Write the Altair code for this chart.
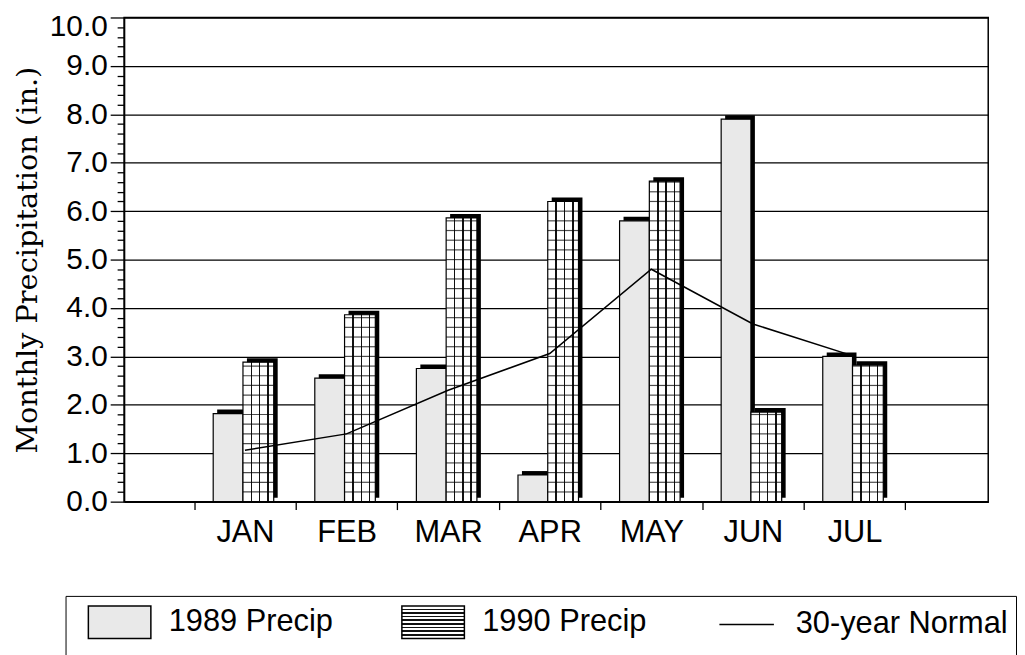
import altair as alt
import pandas as pd

# ---- data ----
months = ["JAN", "FEB", "MAR", "APR", "MAY", "JUN", "JUL"]
precip_1989 = [1.82, 2.55, 2.75, 0.55, 5.80, 7.90, 3.00]
precip_1990 = [2.88, 3.86, 5.86, 6.20, 6.62, 1.85, 2.82]
normal_30yr = [1.06, 1.40, 2.30, 3.06, 4.80, 3.67, 3.00]
series = ["1989 Precip", "1990 Precip", "30-year Normal"]
y_tick_values = [i / 5 for i in range(51)]

df = pd.DataFrame({"month": months, "p1989": precip_1989,
                   "p1990": precip_1990, "normal": normal_30yr})
leg_df = pd.DataFrame({"series": series})

FONT = "Liberation Sans, Arial, Helvetica, sans-serif"
TITLE = "Monthly Precipitation (in.)"
is_int = "abs(datum.value - round(datum.value)) < 0.001"

x_scale = alt.Scale(domain=months, paddingInner=0, paddingOuter=0.753, align=0.458)
x_axis = alt.Axis(title=None, labelAngle=0, tickBand="extent", tickSize=8,
                  labelFontSize=31, labelPadding=8, labelFont=FONT)
y_scale = alt.Scale(domain=[0, 10], nice=False, zero=True)
y_axis = alt.Axis(values=y_tick_values,
                  labelExpr=f"{is_int} ? format(datum.value, '.1f') : ''",
                  tickSize={"condition": {"test": is_int, "value": 14}, "value": 7},
                  gridOpacity={"condition": {"test": is_int, "value": 1}, "value": 0},
                  labelOffset={"condition": {"test": "datum.value > 9.99", "value": 9},
                               "value": 0},
                  labelFontSize=30, labelFont=FONT, labelPadding=3,
                  titleFont="DejaVu Serif", titleFontSize=29, titleFontWeight="normal",
                  titlePadding=7)


def X():
    return alt.X("month:N", sort=months, scale=x_scale, axis=x_axis)


def Y(field):
    return alt.Y(field, scale=y_scale, axis=y_axis, title=TITLE)


base = alt.Chart(df)

shadow89 = base.mark_bar(color="black", width=30, xOffset=-13, yOffset=-4).encode(
    x=X(), y=Y("p1989:Q"))
front89 = base.mark_bar(fill="#e9e9e9", stroke="black", strokeWidth=1.2,
                        width=30, xOffset=-17).encode(x=X(), y=Y("p1989:Q"))

shadow90 = base.mark_bar(color="black", width=31, xOffset=17.5, yOffset=-4).encode(
    x=X(), y=Y("p1990:Q"))

stripe_stops = []
for a, b in [(0.25, 0.30), (0.52, 0.57), (0.79, 0.84)]:
    stripe_stops += [("white", a), ("#111", a), ("#111", b), ("white", b)]
grad_x = alt.Gradient(
    gradient="linear", x1=0, x2=1, y1=0, y2=0,
    stops=[alt.GradientStop(color="white", offset=0)]
    + [alt.GradientStop(color=c, offset=o) for c, o in stripe_stops]
    + [alt.GradientStop(color="white", offset=1)])
front90 = base.mark_bar(fill=grad_x, stroke="black", strokeWidth=1.2,
                        width=31, xOffset=13.5).encode(x=X(), y=Y("p1990:Q"))

hatch90 = base.transform_calculate(
    level="sequence(0.2, datum.p1990, 0.2)"
).transform_flatten(["level"]).mark_tick(
    color="black", thickness=1.2, size=31, xOffset=13.5
).encode(x=X(), y=Y("level:Q"))

normal_line = base.mark_line(color="black", strokeWidth=1.5).encode(
    x=X(), y=Y("normal:Q"))

# legend swatch fill for the hatched series (horizontal stripes)
leg_stops = []
n = 9
for k in range(1, n):
    a = k / n
    leg_stops += [f"{{offset: {a - 0.03:.3f}, color: 'white'}}",
                  f"{{offset: {a - 0.03:.3f}, color: '#111'}}",
                  f"{{offset: {a + 0.02:.3f}, color: '#111'}}",
                  f"{{offset: {a + 0.02:.3f}, color: 'white'}}"]
grad_expr = ("{gradient: 'linear', x1: 0, y1: 0, x2: 0, y2: 1, stops: ["
             "{offset: 0, color: 'white'}, " + ", ".join(leg_stops)
             + ", {offset: 1, color: 'white'}]}")

# symbol box is 35 px; paths reach outside it to draw 63x33 swatches
rect_path = "M-1.8,-0.94H1.8V0.94H-1.8Z"
line_path = "M-1.57,0H1.57"


def make_legend():
    return alt.Legend(
        title=" ", titleOrient="bottom", titleFontSize=14, titlePadding=2,
        orient="none", legendX=-59, legendY=583, direction="horizontal",
        strokeColor="black", fillColor="white", padding=8, symbolOffset=28,
        symbolSize=1225, labelFont=FONT, labelFontSize=31, labelOffset=31,
        labelLimit=400, columnPadding=54, labelColor="black",
        symbolStrokeWidth=1.5, symbolOpacity=1)


legend_layer = alt.Chart(leg_df).transform_filter("false").mark_point(
    filled=True, strokeWidth=1.5).encode(
    fill=alt.Fill("series:N",
                  scale=alt.Scale(domain=series,
                                  range=["#e9e9e9", alt.ExprRef(grad_expr), "transparent"]),
                  legend=make_legend()),
    stroke=alt.Stroke("series:N",
                      scale=alt.Scale(domain=series, range=["black", "black", "black"]),
                      legend=make_legend()),
    shape=alt.Shape("series:N",
                    scale=alt.Scale(domain=series, range=[rect_path, rect_path, line_path]),
                    legend=make_legend()))

chart = alt.layer(
    shadow89, front89, shadow90, front90, hatch90, normal_line, legend_layer
).properties(
    width=871, height=488,
    autosize=alt.AutoSizeParams(type="none"),
    padding={"left": 117, "top": 7, "right": 29, "bottom": 152},
).configure_view(
    stroke="black", strokeWidth=1.5
).configure_axis(
    domainColor="black", domainWidth=1.5, tickColor="black", tickWidth=1.3,
    gridColor="black", gridWidth=1.3, labelColor="black", titleColor="black"
)

chart.save("out.html", embed_options={"renderer": "svg", "actions": False})
